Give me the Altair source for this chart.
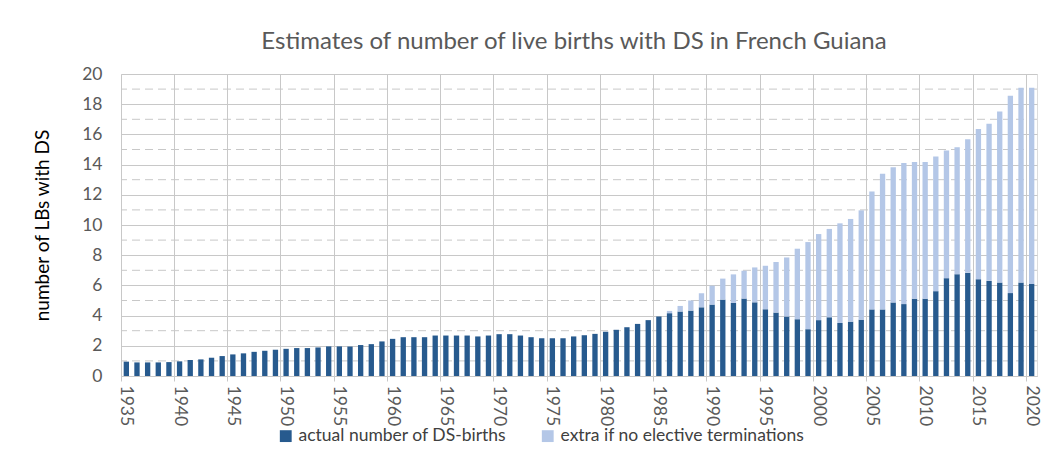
import altair as alt
import pandas as pd

years = list(range(1935, 2021))
actual = [0.95, 0.9, 0.9, 0.9, 0.92, 0.97, 1.06, 1.1, 1.21, 1.32,
          1.43, 1.5, 1.6, 1.67, 1.74, 1.8, 1.85, 1.85, 1.89, 1.96,
          1.96, 1.95, 2.05, 2.11, 2.29, 2.46, 2.57, 2.57, 2.57, 2.68,
          2.68, 2.68, 2.68, 2.62, 2.68, 2.77, 2.77, 2.68, 2.57, 2.5,
          2.5, 2.5, 2.62, 2.7, 2.79, 2.93, 3.06, 3.23, 3.45, 3.7,
          3.94, 4.16, 4.27, 4.33, 4.55, 4.73, 5.06, 4.84, 5.13, 4.88,
          4.42, 4.2, 3.94, 3.76, 3.1, 3.7, 3.89, 3.51, 3.6, 3.73,
          4.41, 4.41, 4.87, 4.76, 5.12, 5.12, 5.62, 6.48, 6.74, 6.83,
          6.41, 6.3, 6.19, 5.49, 6.19, 6.1]
extra = [0, 0, 0, 0, 0, 0, 0, 0, 0, 0,
         0, 0, 0, 0, 0, 0, 0, 0, 0, 0,
         0, 0, 0, 0, 0, 0, 0, 0, 0, 0,
         0, 0, 0, 0, 0, 0, 0, 0, 0, 0,
         0, 0, 0, 0, 0, 0, 0, 0, 0, 0,
         0, 0.15, 0.37, 0.67, 0.93, 1.25, 1.39, 1.89, 1.84, 2.31,
         2.88, 3.35, 3.91, 4.67, 5.77, 5.7, 5.85, 6.6, 6.8, 7.24,
         7.81, 8.98, 8.96, 9.35, 9.06, 9.06, 8.91, 8.45, 8.41, 8.85,
         9.95, 10.41, 11.33, 13.07, 12.9, 12.99]
series_names = ["actual number of DS-births", "extra if no elective terminations"]
series_colors = ["#275A8E", "#B4C7E7"]
x_tick_years = [1935, 1940, 1945, 1950, 1955, 1960, 1965, 1970, 1975, 1980,
                1985, 1990, 1995, 2000, 2005, 2010, 2015, 2020]
major_y = [0, 2, 4, 6, 8, 10, 12, 14, 16, 18, 20]
minor_y = [1, 3, 5, 7, 9, 11, 13, 15, 17, 19]

rows = []
for yr, a, e in zip(years, actual, extra):
    rows.append({"year": yr, "series": series_names[0], "value": a, "ord": 0})
    rows.append({"year": yr, "series": series_names[1], "value": e, "ord": 1})
df = pd.DataFrame(rows)
minor_df = pd.DataFrame({"v": minor_y})

FONT = "Lato"
GRID = "#C8C8C8"

y_scale = alt.Scale(domain=[0, 20], nice=False)
y_axis = alt.Axis(
    values=major_y,
    grid=True,
    gridColor=GRID,
    ticks=False,
    domain=False,
    labelFont=FONT,
    labelFontSize=17.5,
    labelColor="#595959",
    labelPadding=19,
    labelOverlap=False,
    labelFlush=False,
    title="number of LBs with DS",
    titleFont=FONT,
    titleFontSize=19,
    titleFontWeight="normal",
    titleColor="#000000",
    titleAngle=-90,
    titleX=-79,
    titleY=151,
    titleAlign="center",
    titleBaseline="middle",
)

minor_rules = alt.Chart(minor_df).mark_rule(
    color=GRID, strokeDash=[8, 5], strokeWidth=1
).encode(y=alt.Y("v:Q", scale=y_scale, axis=y_axis))

bars = alt.Chart(df).mark_bar().encode(
    x=alt.X(
        "year:O",
        scale=alt.Scale(paddingInner=0.5, paddingOuter=0.25),
        axis=alt.Axis(
            values=x_tick_years,
            bandPosition=-0.5,
            labelAngle=90,
            labelAlign="left",
            labelBaseline="middle",
            labelFont=FONT,
            labelFontSize=17.5,
            labelColor="#595959",
            labelPadding=4,
            labelOverlap=False,
            grid=True,
            gridColor=GRID,
            tickColor=GRID,
            tickSize=5,
            domainColor=GRID,
            title=None,
        ),
    ),
    y=alt.Y("value:Q", stack="zero", scale=y_scale, axis=y_axis),
    color=alt.Color(
        "series:N",
        scale=alt.Scale(domain=series_names, range=series_colors),
        legend=alt.Legend(
            title=None,
            orient="none",
            legendX=156,
            legendY=353,
            direction="horizontal",
            symbolType="square",
            symbolSize=140,
            symbolStrokeWidth=0,
            labelFont=FONT,
            labelFontSize=17.5,
            labelColor="#404040",
            labelLimit=400,
            labelOffset=4,
            columnPadding=32,
        ),
    ),
    order=alt.Order("ord:Q"),
)

chart = alt.layer(minor_rules, bars).properties(
    width=916,
    height=302,
    title=alt.TitleParams(
        "Estimates of number of live births with DS in French Guiana",
        font=FONT,
        fontSize=24,
        fontWeight="normal",
        color="#595959",
        anchor="middle",
        offset=11,
        dx=-5,
    ),
    autosize=alt.AutoSizeParams(type="none"),
    padding={"left": 113, "top": 66, "right": 15, "bottom": 77},
).configure_view(stroke=None).configure(background="white")

chart.save("out.html", embed_options={"renderer": "svg", "actions": False})
